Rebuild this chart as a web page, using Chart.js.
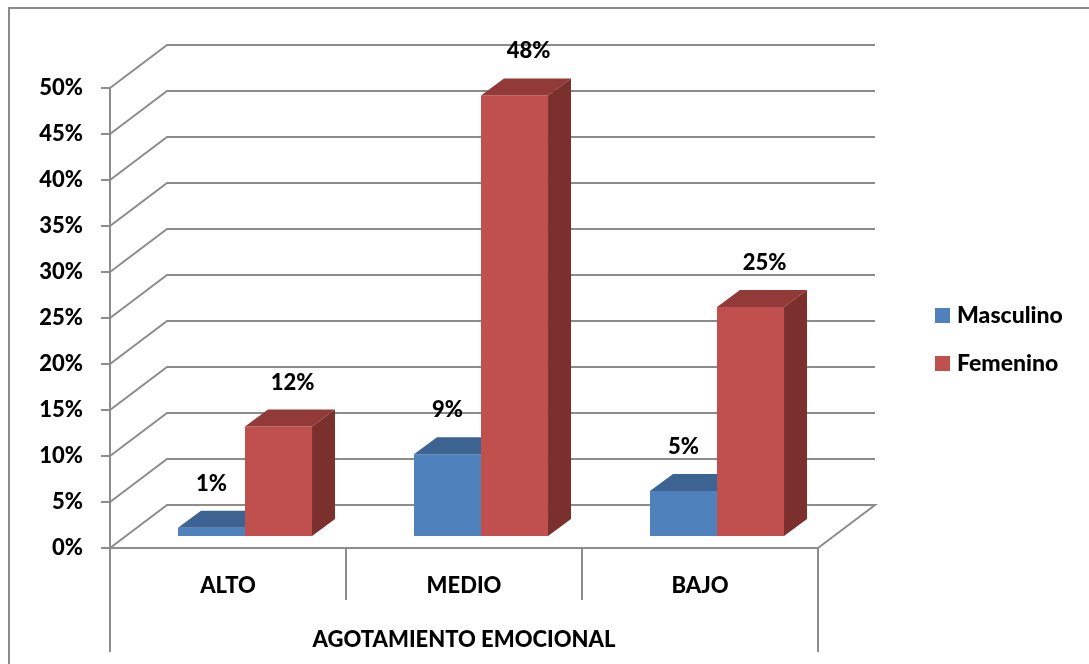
<!DOCTYPE html>
<html>
<head>
<meta charset="utf-8">
<title>Agotamiento emocional</title>
<script src="https://cdn.jsdelivr.net/npm/chart.js@4.4.1/dist/chart.umd.min.js"></script>
<style>
  body { margin: 0; background: #fff; }
  #wrap { width: 1089px; height: 664px; }
</style>
</head>
<body>
<div id="wrap"><canvas id="agotamientoChart" width="1089" height="664"></canvas></div>
<script>
// Porcentajes por nivel y sexo
var categories = ['ALTO', 'MEDIO', 'BAJO'];
var masculino = [1, 9, 5];
var femenino = [12, 48, 25];
var yMax = 50;
var yStep = 5;

var gridColor = '#8c8c8c';
var FONT = { family: 'Lato', weight: '900', size: 22 };

// profundidad de las paredes y de las barras (pseudo 3D)
var WALL = { dx: 57, dy: 43 };
var SHIFT = { dx: 17, dy: 11 };
var DEPTH = { dx: 23, dy: 17 };

var faces = [
    { top: '#3d6392', side: '#34557e', labelShift: 0 },
    { top: '#923a37', side: '#7c302e', labelShift: 14 }
];

var bars3d = {
    id: 'bars3d',
    beforeDraw: function (chart) {
        var ctx = chart.ctx;
        ctx.save();
        ctx.strokeStyle = '#8b8b8b';
        ctx.lineWidth = 2;
        ctx.strokeRect(9, 8, chart.width + 20, chart.height + 20);
        ctx.restore();
    },
    beforeDatasetsDraw: function (chart) {
        var ctx = chart.ctx, a = chart.chartArea, y = chart.scales.y;
        ctx.save();
        ctx.strokeStyle = gridColor;
        ctx.lineWidth = 2;
        for (var v = 0; v <= yMax; v += yStep) {
            var py = y.getPixelForValue(v);
            ctx.beginPath();
            ctx.moveTo(a.left, py);
            ctx.lineTo(a.left + WALL.dx, py - WALL.dy);
            ctx.lineTo(a.right + WALL.dx, py - WALL.dy);
            if (v === 0) ctx.lineTo(a.right, py);
            ctx.stroke();
        }
        // separadores de categorias bajo el piso
        var n = categories.length, w = (a.right - a.left) / n;
        for (var i = 0; i <= n; i++) {
            var px = a.left + i * w;
            ctx.beginPath();
            ctx.moveTo(px, a.bottom);
            ctx.lineTo(px, (i === 0 || i === n) ? a.bottom + 104 : a.bottom + 52);
            ctx.stroke();
        }
        ctx.restore();
    },
    // las barras se dibujan despues, en orden, para que las rojas tapen a las azules
    beforeDatasetDraw: function () {
        return false;
    },
    afterDatasetsDraw: function (chart) {
        var ctx = chart.ctx;
        ctx.save();
        ctx.translate(SHIFT.dx, -SHIFT.dy);
        chart.data.datasets.forEach(function (ds, di) {
            var f = faces[di];
            chart.getDatasetMeta(di).data.forEach(function (el) {
                el.draw(ctx, chart.chartArea);
                var p = el.getProps(['x', 'y', 'base', 'width'], true);
                var L = p.x - p.width / 2, R = p.x + p.width / 2;
                ctx.fillStyle = f.top;
                ctx.beginPath();
                ctx.moveTo(L, p.y);
                ctx.lineTo(R, p.y);
                ctx.lineTo(R + DEPTH.dx, p.y - DEPTH.dy);
                ctx.lineTo(L + DEPTH.dx, p.y - DEPTH.dy);
                ctx.closePath();
                ctx.fill();
                ctx.fillStyle = f.side;
                ctx.beginPath();
                ctx.moveTo(R, p.y);
                ctx.lineTo(R + DEPTH.dx, p.y - DEPTH.dy);
                ctx.lineTo(R + DEPTH.dx, p.base - DEPTH.dy);
                ctx.lineTo(R, p.base);
                ctx.closePath();
                ctx.fill();
            });
        });
        ctx.restore();

        // etiquetas de valor
        ctx.save();
        ctx.font = '900 22px Lato';
        ctx.fillStyle = '#000';
        ctx.textAlign = 'center';
        ctx.textBaseline = 'middle';
        chart.data.datasets.forEach(function (ds, di) {
            chart.getDatasetMeta(di).data.forEach(function (el, i) {
                var x = el.x + SHIFT.dx + faces[di].labelShift;
                var y = el.y - SHIFT.dy - DEPTH.dy - 27;
                ctx.fillText(ds.data[i] + '%', x, y);
            });
        });
        // leyenda
        ctx.font = '900 23px Lato';
        ctx.textAlign = 'left';
        chart.data.datasets.forEach(function (ds, di) {
            var cy = 315 + di * 48;
            ctx.fillStyle = ds.backgroundColor;
            ctx.fillRect(935, cy - 7, 15, 15);
            ctx.fillStyle = '#000';
            ctx.fillText(ds.label, 957, cy + 1);
        });
        ctx.restore();
    }
};

var ctx = document.getElementById('agotamientoChart').getContext('2d');
var myChart = new Chart(ctx, {
    type: 'bar',
    data: {
        labels: categories,
        datasets: [{
            label: 'Masculino',
            data: masculino,
            backgroundColor: '#4f81bd'
        }, {
            label: 'Femenino',
            data: femenino,
            backgroundColor: '#c0504d'
        }]
    },
    options: {
        responsive: false,
        animation: false,
        layout: { padding: { left: 9, right: 271, top: 88, bottom: 0 } },
        categoryPercentage: 0.568,
        barPercentage: 1,
        plugins: {
            legend: { display: false },
            tooltip: { enabled: false }
        },
        scales: {
            x: {
                grid: { drawOnChartArea: false, drawTicks: false },
                border: { display: true, color: gridColor, width: 2 },
                ticks: { color: '#000', font: FONT, padding: 25 },
                title: {
                    display: true,
                    text: 'AGOTAMIENTO EMOCIONAL',
                    color: '#000',
                    font: FONT,
                    padding: { top: 0, bottom: 11 }
                },
                afterFit: function (scale) { scale.height = 116; }
            },
            y: {
                min: 0,
                max: yMax,
                ticks: {
                    stepSize: yStep,
                    color: '#000',
                    font: FONT,
                    padding: 18,
                    callback: function (v) { return v + '%'; }
                },
                grid: { drawOnChartArea: false, drawTicks: true, tickLength: 9, color: gridColor, lineWidth: 2 },
                border: { display: true, color: gridColor, width: 2 },
                afterFit: function (scale) { scale.width = 101; }
            }
        }
    },
    plugins: [bars3d]
});
</script>
</body>
</html>
